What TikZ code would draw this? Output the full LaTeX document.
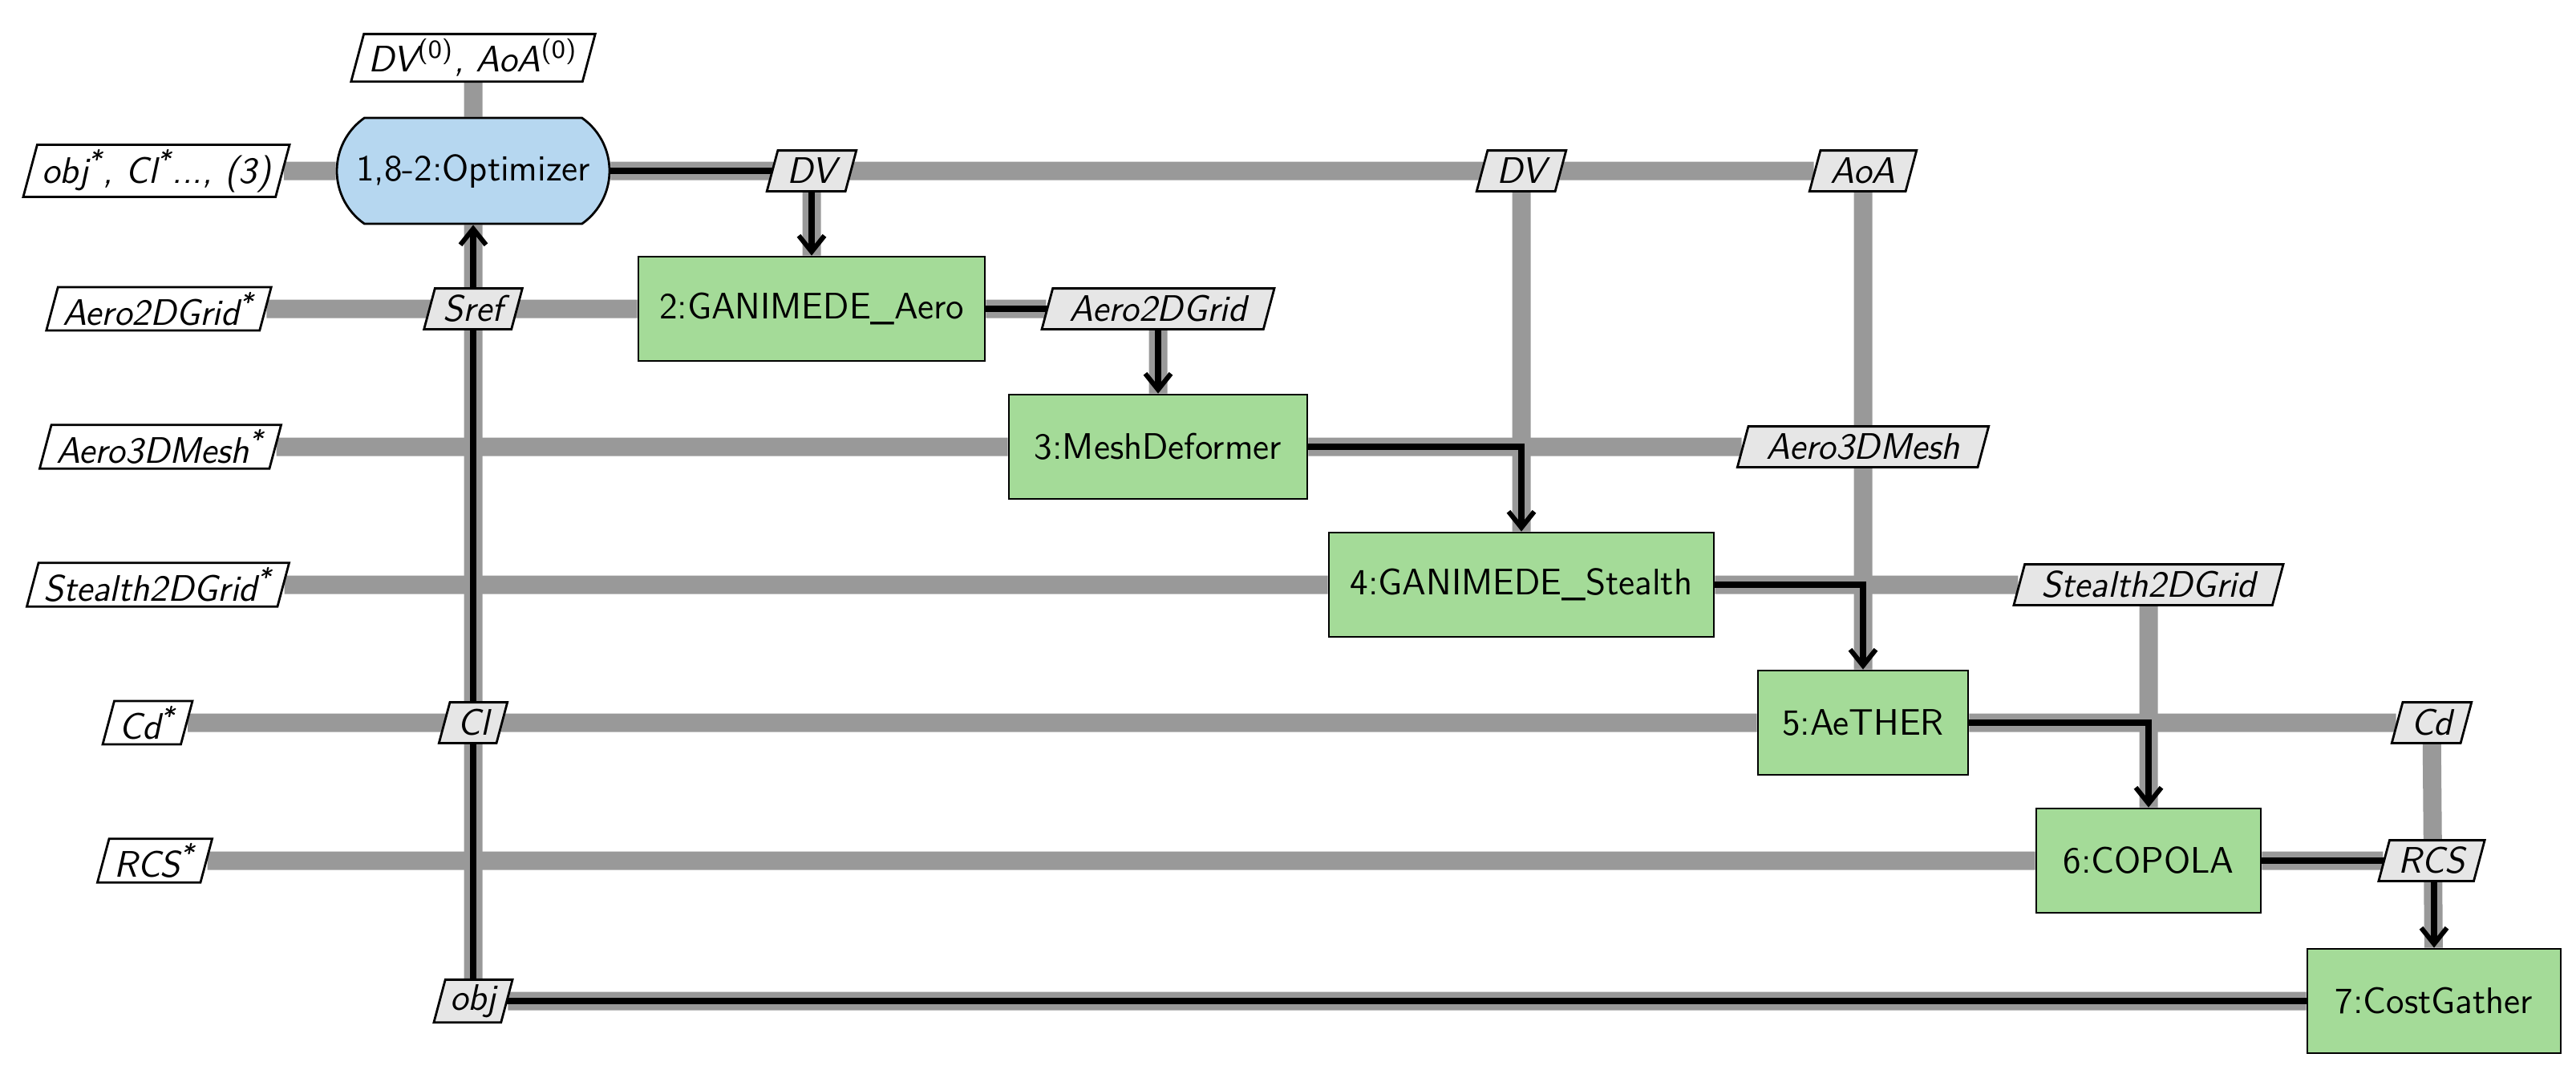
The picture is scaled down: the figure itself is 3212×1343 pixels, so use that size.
\documentclass[tikz,border=0pt]{standalone}
\usetikzlibrary{shapes.geometric,shapes.misc,arrows.meta}
\pgfdeclarelayer{background}
\pgfsetlayers{background,main}
\definecolor{optblue}{RGB}{182,215,240}
\definecolor{fgreen}{RGB}{164,219,152}
\definecolor{dgray}{RGB}{230,230,230}
\definecolor{lgray}{RGB}{153,153,153}
\begin{document}
\begin{tikzpicture}[x=0.25pt,y=-0.25pt,
  font=\sffamily\fontsize{11.5}{13}\selectfont,
  every node/.style={draw=black,line width=0.7pt},
  opt/.style={rounded rectangle,rounded rectangle arc length=110,fill=optblue,minimum width=89pt,minimum height=33pt,inner sep=2pt},
  func/.style={rectangle,fill=fgreen,minimum height=32.5pt,inner sep=2pt},
  dat/.style={trapezium,trapezium left angle=75,trapezium right angle=105,fill=dgray,minimum height=12.7pt,inner sep=1.5pt,font=\sffamily\itshape\fontsize{11.5}{13}\selectfont},
  inp/.style={dat,fill=white},
  gl/.style={draw=lgray,line width=5.75pt},
  bl/.style={draw=black,line width=1.8pt,-{Straight Barb[length=5pt,width=8pt,line width=1.5pt]}},
  bn/.style={draw=black,line width=1.8pt}]
\useasboundingbox (0,0) rectangle (3212,1343);
% function nodes
\node[opt] (opt) at (590,213) {1,8-2:Optimizer};
\node[func,minimum width=108pt] (aero) at (1012,385) {2:GANIMEDE\_Aero};
\node[func,minimum width=93pt] (mesh) at (1444,557) {3:MeshDeformer};
\node[func,minimum width=120pt] (stealth) at (1897,729) {4:GANIMEDE\_Stealth};
\node[func,minimum width=65.5pt] (aether) at (2323,901) {5:AeTHER};
\node[func,minimum width=70pt] (copola) at (2679,1073) {6:COPOLA};
\node[func,minimum width=79pt] (cost) at (3035,1248) {7:CostGather};
% inputs
\node[inp] (dv0) at (590,72) {DV\textsuperscript{\upshape(0)}, AoA\textsuperscript{\upshape(0)}};
\node[inp] (in1) at (195,213) {obj\textsuperscript{*}, Cl\textsuperscript{*}..., (3)};
\node[inp] (in2) at (198,385) {Aero2DGrid\textsuperscript{*}};
\node[inp] (in3) at (200,557) {Aero3DMesh\textsuperscript{*}};
\node[inp] (in4) at (197,729) {Stealth2DGrid\textsuperscript{*}};
\node[inp] (in5) at (184,901) {Cd\textsuperscript{*}};
\node[inp] (in6) at (193,1073) {RCS\textsuperscript{*}};
% data
\node[dat] (dv1) at (1012,213) {DV};
\node[dat] (dv2) at (1897,213) {DV};
\node[dat] (aoa) at (2323,213) {AoA};
\node[dat] (sref) at (590,385) {Sref};
\node[dat] (a2d) at (1444,385) {Aero2DGrid};
\node[dat] (a3d) at (2323,557) {Aero3DMesh};
\node[dat] (s2d) at (2679,729) {Stealth2DGrid};
\node[dat] (cl) at (590,901) {Cl};
\node[dat] (cd) at (3032,901) {Cd};
\node[dat] (rcs) at (3032,1073) {RCS};
\node[dat] (objd) at (590,1248) {obj};
\begin{pgfonlayer}{background}
% gray data lines
\draw[gl] (dv0) -- (opt);
\draw[gl] (opt) -- (objd);
\draw[gl] (in1) -- (opt);
\draw[gl] (opt) -- (aoa);
\draw[gl] (in2) -- (aero) -- (a2d);
\draw[gl] (in3) -- (mesh) -- (a3d);
\draw[gl] (in4) -- (stealth) -- (s2d);
\draw[gl] (in5) -- (aether) -- (cd);
\draw[gl] (in6) -- (copola) -- (rcs);
\draw[gl] (objd) -- (cost);
\draw[gl] (dv1) -- (aero);
\draw[gl] (a2d) -- (mesh);
\draw[gl] (dv2) -- (stealth);
\draw[gl] (aoa) -- (aether);
\draw[gl] (s2d) -- (copola);
\draw[gl] (cd) -- (cost);
% process lines
\draw[bl] (opt) -| (aero);
\draw[bl] (aero) -| (mesh);
\draw[bl] (mesh) -| (stealth);
\draw[bl] (stealth) -| (aether);
\draw[bl] (aether) -| (copola);
\draw[bl] (copola) -| (cost);
\draw[bl] (cost) -| (opt);
\end{pgfonlayer}
\end{tikzpicture}
\end{document}
